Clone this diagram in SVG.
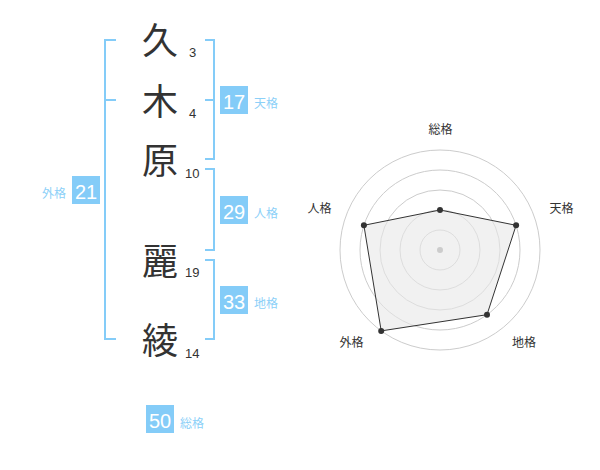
<svg xmlns="http://www.w3.org/2000/svg" width="600" height="470" viewBox="0 0 600 470">
<style>
.ch{font-family:"Noto Sans CJK JP","Noto Sans CJK SC",sans-serif;font-size:36px;fill:#333;text-anchor:middle}
.st{font-family:"Liberation Sans",Arial,sans-serif;font-size:13px;fill:#333}
.box{fill:#84ccf8}
.bn{font-family:"Liberation Sans",Arial,sans-serif;font-size:20px;fill:#fff;text-anchor:middle}
.bl{font-family:"Noto Sans CJK JP","Noto Sans CJK SC",sans-serif;font-size:12px;fill:#8cd0f8}
.br{fill:none;stroke:#84ccf8;stroke-width:2}
.ring{fill:none;stroke:#cccccc;stroke-width:1}
.rl{font-family:"Noto Sans CJK JP","Noto Sans CJK SC",sans-serif;font-size:12px;fill:#333;text-anchor:middle}
.pt{fill:#333}
</style>
<rect width="600" height="470" fill="#fff"/>
<g id="chars">
<text class="ch" x="160" y="54">久</text>
<text class="ch" x="160" y="115">木</text>
<text class="ch" x="160" y="174">原</text>
<text class="ch" x="160" y="275">麗</text>
<text class="ch" x="160" y="354">綾</text>
<text class="st" x="189" y="57">3</text>
<text class="st" x="189" y="118">4</text>
<text class="st" x="185" y="178">10</text>
<text class="st" x="185" y="277">19</text>
<text class="st" x="185" y="358">14</text>
</g>
<g id="connectors">
<path class="br" d="M116,40 H105 V339 H116 M105,100 H116"/>
<path class="br" d="M205,40 H214 V159 H205 M205,100 H214"/>
<path class="br" d="M205,169 H214 V250 H205"/>
<path class="br" d="M205,260 H214 V339 H205"/>
</g>
<g id="tenkaku">
<rect class="box" x="220" y="86" width="28" height="28"/>
<text class="bn" x="234" y="109">17</text>
<text class="bl" x="254" y="108">天格</text>
</g>
<g id="jinkaku">
<rect class="box" x="220" y="196" width="28" height="28"/>
<text class="bn" x="234" y="219">29</text>
<text class="bl" x="254" y="218">人格</text>
</g>
<g id="chikaku">
<rect class="box" x="220" y="286" width="28" height="28"/>
<text class="bn" x="234" y="309">33</text>
<text class="bl" x="254" y="308">地格</text>
</g>
<g id="gaikaku">
<rect class="box" x="72" y="176" width="28" height="28"/>
<text class="bn" x="86" y="199">21</text>
<text class="bl" x="66" y="198" text-anchor="end">外格</text>
</g>
<g id="soukaku">
<rect class="box" x="146" y="405" width="28" height="28"/>
<text class="bn" x="160" y="428">50</text>
<text class="bl" x="180" y="428">総格</text>
</g>
<g id="radar">
<circle class="ring" cx="440" cy="250" r="20"/>
<circle class="ring" cx="440" cy="250" r="40"/>
<circle class="ring" cx="440" cy="250" r="60"/>
<circle class="ring" cx="440" cy="250" r="80"/>
<circle class="ring" cx="440" cy="250" r="100"/>
<polygon points="440,210 516.1,225.3 487,314.7 381.2,330.9 363.9,225.3" fill="#e8e8e8" fill-opacity="0.6" stroke="#333" stroke-width="1"/>
<circle cx="440" cy="250" r="3" fill="#cccccc"/>
<circle class="pt" cx="440" cy="210" r="3"/>
<circle class="pt" cx="516.1" cy="225.3" r="3"/>
<circle class="pt" cx="487" cy="314.7" r="3"/>
<circle class="pt" cx="381.2" cy="330.9" r="3"/>
<circle class="pt" cx="363.9" cy="225.3" r="3"/>
<text class="rl" x="440.5" y="134">総格</text>
<text class="rl" x="561.5" y="213">天格</text>
<text class="rl" x="319.5" y="213">人格</text>
<text class="rl" x="351.5" y="347">外格</text>
<text class="rl" x="524" y="347">地格</text>
</g>
</svg>
